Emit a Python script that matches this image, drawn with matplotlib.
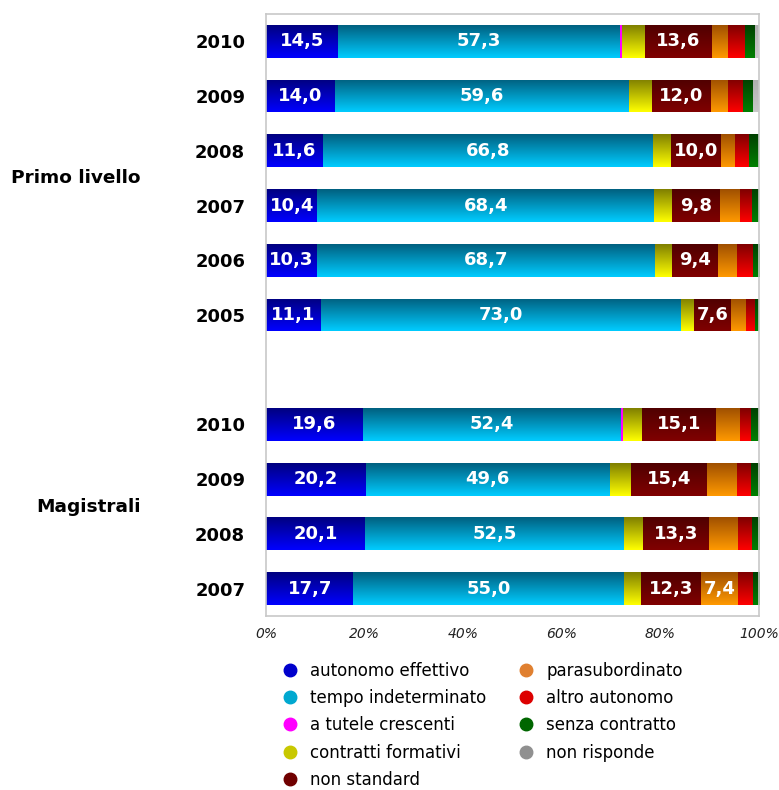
import numpy as np
from matplotlib import pyplot as plt
from matplotlib.lines import Line2D
from matplotlib.colors import to_rgb
import matplotlib.transforms as mtransforms

# rows from top to bottom
years = ['2010', '2009', '2008', '2007', '2006', '2005',
         '2010', '2009', '2008', '2007']
groups = ['Primo livello', 'Magistrali']

autonomo = [14.5, 14.0, 11.6, 10.4, 10.3, 11.1, 19.6, 20.2, 20.1, 17.7]
tempo = [57.3, 59.6, 66.8, 68.4, 68.7, 73.0, 52.4, 49.6, 52.5, 55.0]
tutele = [0.5, 0, 0, 0, 0, 0, 0.5, 0, 0, 0]
formativi = [4.5, 4.7, 3.8, 3.5, 3.3, 2.7, 3.7, 4.3, 3.9, 3.3]
non_standard = [13.6, 12.0, 10.0, 9.8, 9.4, 7.6, 15.1, 15.4, 13.3, 12.3]
parasub = [3.3, 3.5, 3.0, 4.0, 3.9, 3.0, 4.8, 6.0, 6.0, 7.4]
altro = [3.5, 3.0, 2.8, 2.5, 3.1, 1.8, 2.3, 2.8, 2.7, 3.0]
senza = [2.0, 2.0, 2.0, 1.4, 1.3, 0.8, 1.6, 1.7, 1.5, 1.3]
non_risponde = [0.8, 1.2, 0, 0, 0, 0, 0, 0, 0, 0]

series = [
    ('autonomo effettivo', autonomo, '#000080', '#0000FF', '#0000CC'),
    ('tempo indeterminato', tempo, '#006080', '#00CCFF', '#00A8D0'),
    ('a tutele crescenti', tutele, '#FF00FF', '#FF00FF', '#FF00FF'),
    ('contratti formativi', formativi, '#808000', '#FFFF00', '#C8C800'),
    ('non standard', non_standard, '#500000', '#800000', '#700000'),
    ('parasubordinato', parasub, '#A05000', '#FF9900', '#E08030'),
    ('altro autonomo', altro, '#800000', '#FF0000', '#DD0000'),
    ('senza contratto', senza, '#004000', '#008000', '#006600'),
    ('non risponde', non_risponde, '#B0B0B0', '#C8C8C8', '#909090'),
]

# slot 6 is the empty gap between the two groups
ypos = [0, 1, 2, 3, 4, 5, 7, 8, 9, 10]

fig = plt.figure(figsize=(7.79, 7.90), dpi=100)
ax = fig.add_axes([0.3415, 0.2203, 0.6328, 0.762])

grad = np.linspace(0, 1, 64)
left = np.zeros(len(ypos))
for name, vals, c_top, c_bot, _ in series:
    vals = np.array(vals)
    bars = ax.barh(ypos, vals, left=left, height=0.6, color=c_bot, linewidth=0)
    top = np.array(to_rgb(c_top))
    bot = np.array(to_rgb(c_bot))
    img = (top[None, :] * (1 - grad[:, None]) + bot[None, :] * grad[:, None])[:, None, :]
    for b, v in zip(bars, vals):
        if v <= 0:
            continue
        x0, y0, w, h = b.get_x(), b.get_y(), b.get_width(), b.get_height()
        im = ax.imshow(img, extent=(x0, x0 + w, y0 + h, y0), origin='upper',
                       aspect='auto', interpolation='bilinear', zorder=2)
        im.set_clip_path(b)
        if v >= 7:
            ax.text(x0 + w / 2, y0 + h / 2, f'{v:.1f}'.replace('.', ','),
                    ha='center', va='center', color='white',
                    fontsize=13, fontweight='bold', zorder=3)
    left += vals

ax.set_xlim(0, 100)
ax.set_ylim(10.5, -0.5)
ax.set_xticks([0, 20, 40, 60, 80, 100])
ax.set_xticklabels(['0%', '20%', '40%', '60%', '80%', '100%'],
                   fontsize=10, style='italic', color='#222222')
ax.set_yticks(ypos)
ax.set_yticklabels(years, fontsize=13, fontweight='bold')
ax.tick_params(axis='both', length=0)
ax.tick_params(axis='y', pad=15)
ax.tick_params(axis='x', pad=8)
for s in ax.spines.values():
    s.set_color('#C8C8C8')
    s.set_linewidth(1.2)

trans = mtransforms.blended_transform_factory(fig.transFigure, ax.transData)
ax.text(0.181, 2.5, groups[0], transform=trans, ha='right', va='center',
        fontsize=13.3, fontweight='bold')
ax.text(0.181, 8.5, groups[1], transform=trans, ha='right', va='center',
        fontsize=13.3, fontweight='bold')

handles = [Line2D([], [], linestyle='none', marker='o', markersize=9,
                  markerfacecolor=c, markeredgecolor=c) for _, _, _, _, c in series]
labels = [s[0] for s in series]
fig.legend(handles, labels, ncol=2, loc='upper left', bbox_to_anchor=(0.353, 0.171),
           frameon=False, fontsize=12, handlelength=1.0, handletextpad=0.7,
           columnspacing=1.9, labelspacing=0.56, borderaxespad=0)

plt.savefig('out.png', dpi=100)
